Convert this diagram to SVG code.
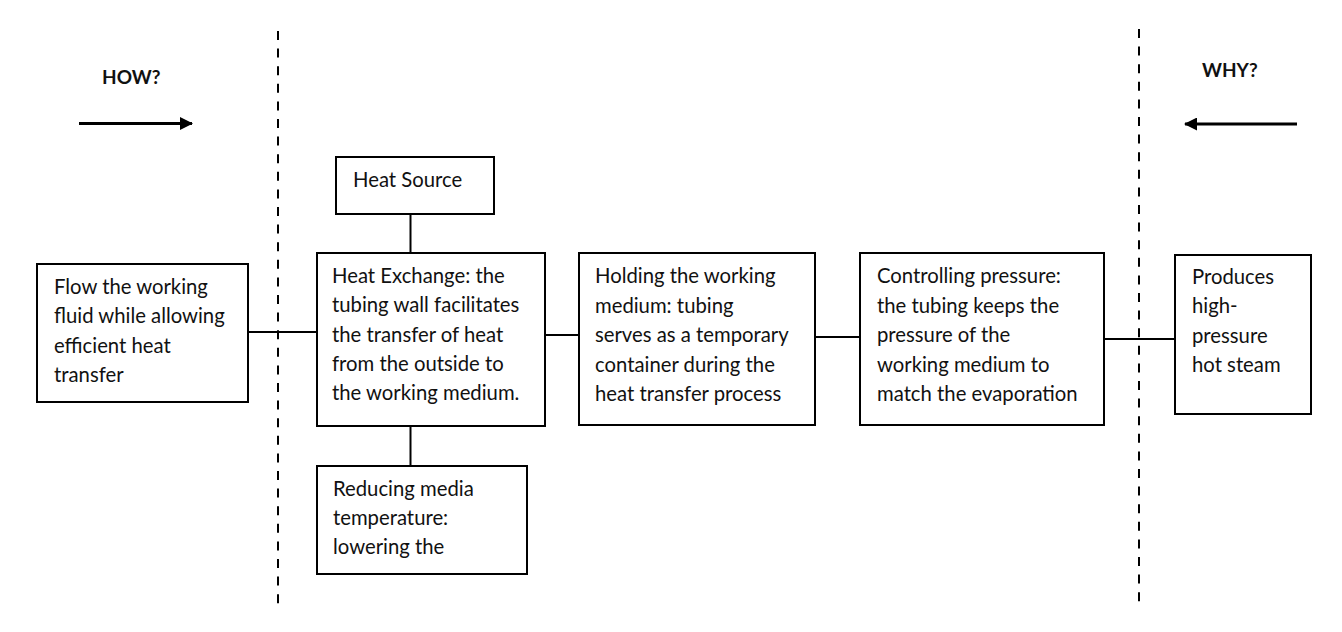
<svg xmlns="http://www.w3.org/2000/svg" width="1342" height="632" viewBox="0 0 1342 632">
<style>
.box{fill:#fff;stroke:#000;stroke-width:2}
.t{font-family:Lato,"Open Sans","Liberation Sans",sans-serif;font-size:20.3px;fill:#111}
.h{font-family:Lato,"Open Sans","Liberation Sans",sans-serif;font-size:19px;font-weight:bold;fill:#111}
.c{stroke:#000;stroke-width:2;fill:none}
.d{stroke:#000;stroke-width:2;stroke-dasharray:9 8.6;fill:none}
.a{stroke:#000;stroke-width:3;fill:none}
</style>
<defs>
<marker id="ah" viewBox="0 0 13 13" refX="12" refY="6.5" markerWidth="13" markerHeight="13" markerUnits="userSpaceOnUse" orient="auto">
<path d="M0,0 L13,6.5 L0,13 Z" fill="#000"/>
</marker>
</defs>
<rect width="1342" height="632" fill="#fff"/>
<g id="guides">
<line class="d" x1="278" y1="31" x2="278" y2="604"/>
<line class="d" x1="1139" y1="29" x2="1139" y2="602"/>
<text class="h" x="102" y="84">HOW?</text>
<line class="a" x1="79" y1="123.5" x2="192" y2="123.5" marker-end="url(#ah)"/>
<text class="h" x="1202" y="77">WHY?</text>
<line class="a" x1="1297" y1="124" x2="1185" y2="124" marker-end="url(#ah)"/>
</g>
<g id="connectors">
<line class="c" x1="248" y1="332" x2="317" y2="332"/>
<line class="c" x1="410.5" y1="214" x2="410.5" y2="253"/>
<line class="c" x1="410.5" y1="426" x2="410.5" y2="466"/>
<line class="c" x1="545" y1="335" x2="579" y2="335"/>
<line class="c" x1="815" y1="337" x2="860" y2="337"/>
<line class="c" x1="1104" y1="339" x2="1175" y2="339"/>
</g>
<g id="flow">
<rect class="box" x="37" y="264" width="211" height="138"/>
<text class="t" x="54" y="294">Flow the working</text>
<text class="t" x="54" y="323">fluid while allowing</text>
<text class="t" x="54" y="352.5">efficient heat</text>
<text class="t" x="54" y="382">transfer</text>
</g>
<g id="heat-source">
<rect class="box" x="336" y="157" width="158" height="57"/>
<text class="t" x="353" y="187">Heat Source</text>
</g>
<g id="heat-exchange">
<rect class="box" x="317" y="253" width="228" height="173"/>
<text class="t" x="332" y="283">Heat Exchange: the</text>
<text class="t" x="332" y="312">tubing wall facilitates</text>
<text class="t" x="332" y="341.5">the transfer of heat</text>
<text class="t" x="332" y="371">from the outside to</text>
<text class="t" x="332" y="400">the working medium.</text>
</g>
<g id="reducing">
<rect class="box" x="317" y="466" width="210" height="108"/>
<text class="t" x="333" y="496">Reducing media</text>
<text class="t" x="333" y="525">temperature:</text>
<text class="t" x="333" y="554">lowering the</text>
</g>
<g id="holding">
<rect class="box" x="579" y="253" width="236" height="172"/>
<text class="t" x="595" y="283">Holding the working</text>
<text class="t" x="595" y="312.5">medium: tubing</text>
<text class="t" x="595" y="342">serves as a temporary</text>
<text class="t" x="595" y="371.5">container during the</text>
<text class="t" x="595" y="401">heat transfer process</text>
</g>
<g id="controlling">
<rect class="box" x="860" y="253" width="244" height="172"/>
<text class="t" x="877" y="283">Controlling pressure:</text>
<text class="t" x="877" y="312.5">the tubing keeps the</text>
<text class="t" x="877" y="342">pressure of the</text>
<text class="t" x="877" y="371.5">working medium to</text>
<text class="t" x="877" y="401">match the evaporation</text>
</g>
<g id="produces">
<rect class="box" x="1175" y="255" width="136" height="159"/>
<text class="t" x="1192" y="284">Produces</text>
<text class="t" x="1192" y="313">high-</text>
<text class="t" x="1192" y="343">pressure</text>
<text class="t" x="1192" y="372">hot steam</text>
</g>
</svg>
